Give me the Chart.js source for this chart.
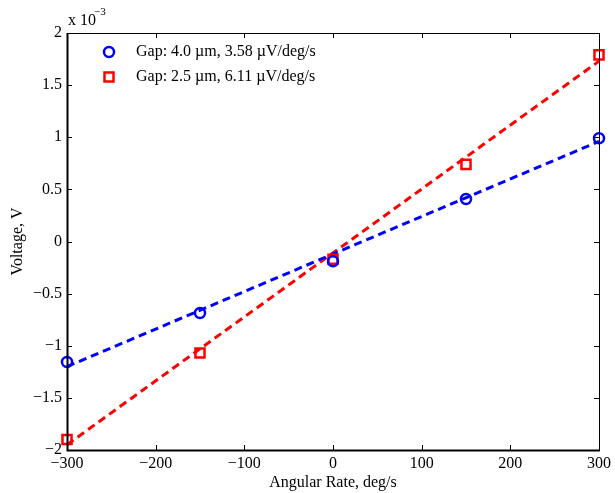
<!DOCTYPE html>
<html>
<head>
<meta charset="utf-8">
<script src="https://cdn.jsdelivr.net/npm/chart.js@4.4.0/dist/chart.umd.min.js"></script>
<style>
  body { margin: 0; background: #fff; }
  #wrap { width: 615px; height: 493px; }
</style>
</head>
<body>
<div id="wrap"><canvas id="chart" width="615" height="493"></canvas></div>
<script>
// measured points (voltage in units of 1e-3 V)
const rates = [-300, -150, 0, 150, 300];
const gap40Voltage = [-1.156, -0.686, -0.19, 0.408, 0.99];
const gap25Voltage = [-1.90, -1.07, -0.17, 0.74, 1.79];

// linear fits, read at the ends of the axis
const fitRates = [-300, 300];
const gap40Fit = [-1.20, 0.96];
const gap25Fit = [-1.95, 1.73];

const seriesLabels = ["Gap: 4.0 \u00b5m, 3.58 \u00b5V/deg/s", "Gap: 2.5 \u00b5m, 6.11 \u00b5V/deg/s"];

const FONT = "'Liberation Serif', 'DejaVu Serif', serif";
const toPoints = (xs, ys) => xs.map((x, i) => ({ x: x, y: ys[i] }));
const minus = v => String(v).replace('-', '\u2212');

// MATLAB style box, inward ticks, titles and legend
const matlabLook = {
  id: 'matlabLook',
  afterDraw(chart) {
    const ctx = chart.ctx;
    const a = chart.chartArea;
    const xs = chart.scales.x, ys = chart.scales.y;
    ctx.save();
    ctx.strokeStyle = '#000';
    ctx.lineWidth = 1;
    ctx.beginPath();
    ctx.moveTo(a.left, a.top + 0.5); ctx.lineTo(a.right + 0.5, a.top + 0.5);
    ctx.lineTo(a.right + 0.5, a.bottom);
    xs.ticks.forEach(t => {
      const p = Math.round(xs.getPixelForValue(t.value)) + 0.5;
      ctx.moveTo(p, a.bottom); ctx.lineTo(p, a.bottom - 5);
      ctx.moveTo(p, a.top); ctx.lineTo(p, a.top + 5);
    });
    ys.ticks.forEach(t => {
      const p = Math.round(ys.getPixelForValue(t.value)) + 0.5;
      ctx.moveTo(a.left, p); ctx.lineTo(a.left + 5, p);
      ctx.moveTo(a.right, p); ctx.lineTo(a.right - 5, p);
    });
    ctx.stroke();
    ctx.lineWidth = 2;
    ctx.beginPath();
    ctx.moveTo(a.left + 0.5, a.top);
    ctx.lineTo(a.left + 0.5, a.bottom + 0.5);
    ctx.lineTo(a.right + 1, a.bottom + 0.5);
    ctx.stroke();

    // axis titles
    ctx.fillStyle = '#000';
    ctx.font = '16px ' + FONT;
    ctx.textAlign = 'center';
    ctx.textBaseline = 'middle';
    ctx.fillText('Angular Rate, deg/s', (a.left + a.right) / 2, 483);
    ctx.save();
    ctx.translate(18, (a.top + a.bottom) / 2);
    ctx.rotate(-Math.PI / 2);
    ctx.fillText('Voltage, V', 0, 0);
    ctx.restore();

    // exponent
    ctx.textAlign = 'left';
    ctx.textBaseline = 'alphabetic';
    ctx.fillText('x 10', a.left + 1, 25);
    const w = ctx.measureText('x 10').width;
    ctx.font = '11px ' + FONT;
    ctx.fillText('\u22123', a.left + w - 1, 15);

    // legend
    ctx.font = '16px ' + FONT;
    ctx.textBaseline = 'middle';
    const lx = 109, ly = [52, 77];
    ctx.lineWidth = 2.5;
    ctx.strokeStyle = '#0000ff';
    ctx.beginPath();
    ctx.arc(lx, ly[0], 5, 0, Math.PI * 2);
    ctx.stroke();
    ctx.strokeStyle = '#ff0000';
    ctx.strokeRect(lx - 4.5, ly[1] - 4.5, 9, 9);
    ctx.fillStyle = '#000';
    seriesLabels.forEach((s, i) => ctx.fillText(s, 136, ly[i]));
    ctx.restore();
  }
};

new Chart(document.getElementById('chart'), {
  type: 'scatter',
  data: {
    datasets: [
      {
        label: seriesLabels[0],
        data: toPoints(rates, gap40Voltage),
        pointStyle: 'circle',
        radius: 5,
        borderWidth: 2.5,
        borderColor: '#0000ff',
        backgroundColor: 'rgba(0,0,0,0)',
        clip: false
      },
      {
        label: seriesLabels[1],
        data: toPoints(rates, gap25Voltage),
        pointStyle: 'rect',
        radius: 6.4,
        borderWidth: 2.5,
        borderColor: '#ff0000',
        backgroundColor: 'rgba(0,0,0,0)',
        clip: false
      },
      {
        label: 'fit 4.0',
        data: toPoints(fitRates, gap40Fit),
        showLine: true,
        pointRadius: 0,
        borderColor: '#0000ff',
        borderWidth: 3,
        borderDash: [8, 5],
        clip: false
      },
      {
        label: 'fit 2.5',
        data: toPoints(fitRates, gap25Fit),
        showLine: true,
        pointRadius: 0,
        borderColor: '#ff0000',
        borderWidth: 3,
        borderDash: [8, 5],
        clip: false
      }
    ]
  },
  options: {
    responsive: false,
    animation: false,
    layout: { padding: { left: 0, top: 33, right: 15, bottom: 0 } },
    plugins: {
      legend: { display: false },
      tooltip: { enabled: false }
    },
    scales: {
      x: {
        type: 'linear',
        min: -300,
        max: 300,
        ticks: {
          stepSize: 100,
          color: '#000',
          font: { family: FONT, size: 16 },
          padding: 4,
          maxRotation: 0,
          callback: v => minus(v)
        },
        grid: { display: false, drawTicks: false },
        border: { display: false },
        afterFit: s => { s.height = 43; }
      },
      y: {
        min: -2,
        max: 2,
        ticks: {
          stepSize: 0.5,
          color: '#000',
          font: { family: FONT, size: 16 },
          padding: 5,
          callback: v => minus(v)
        },
        grid: { display: false, drawTicks: false },
        border: { display: false },
        afterFit: s => { s.width = 67; }
      }
    }
  },
  plugins: [matlabLook]
});
</script>
</body>
</html>
